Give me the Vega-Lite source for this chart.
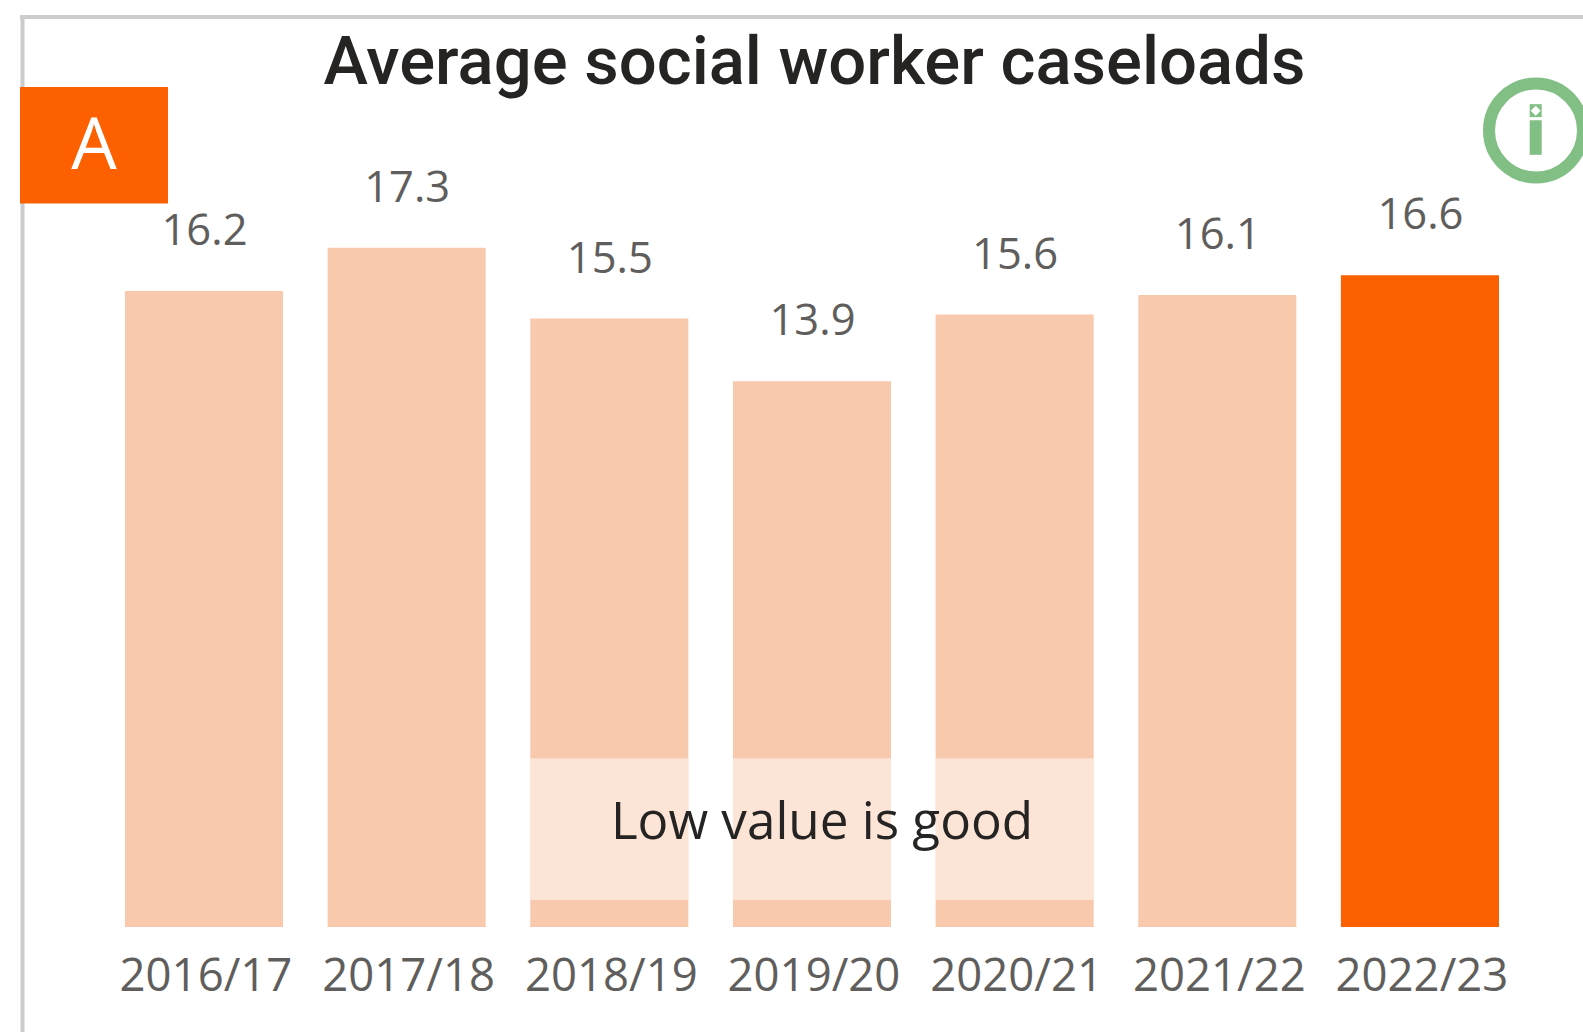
{
"$schema":"https://vega.github.io/schema/vega-lite/v6.json",
"width":1561,"height":1015,
"padding":{"left":22,"top":17,"right":0,"bottom":0},
"autosize":{"type":"none"},
"background":"white",
"config":{"view":{"stroke":null}},
"title":{"text":"Average social worker caseloads","font":"Roboto","fontSize":67,"fontWeight":500,"color":"#252423","anchor":"middle","dx":12,"offset":-136,"baseline":"alphabetic"},
"data":{"values":[
{"year":"2016/17","value":16.2,"period":"past"},
{"year":"2017/18","value":17.3,"period":"past"},
{"year":"2018/19","value":15.5,"period":"past"},
{"year":"2019/20","value":13.9,"period":"past"},
{"year":"2020/21","value":15.6,"period":"past"},
{"year":"2021/22","value":16.1,"period":"past"},
{"year":"2022/23","value":16.6,"period":"current"}
]},
"resolve":{"scale":{"x":"independent"}},
"layer":[
{"encoding":{
  "x":{"field":"year","type":"nominal","sort":null,"scale":{"type":"band","range":[80.65,1499.3],"paddingInner":0.22,"paddingOuter":0.11},
    "axis":{"title":null,"offset":-105,"domain":false,"ticks":false,"grid":false,"labelAngle":0,"labelFont":"Open Sans","labelFontSize":45.5,"labelColor":"#605e5c","labelPadding":63,"labelOffset":2,"labelOverlap":false,"labelFlush":false,"labelBaseline":"alphabetic","labelBound":false}},
  "y":{"field":"value","type":"quantitative","scale":{"domain":[-2.674,23.18],"nice":false,"zero":false},
    "axis":{"title":null,"labels":false,"ticks":false,"grid":false,"domain":true,"domainColor":"#cccccc","domainWidth":4}}
 },
 "layer":[
  {"mark":{"type":"bar"},"encoding":{"color":{"field":"period","type":"nominal","legend":null,"scale":{"domain":["past","current"],"range":["#f9c9ae","#fd6000"]}}}},
  {"transform":[{"filter":"datum.year >= '2018/19' && datum.year <= '2020/21'"}],"mark":{"type":"bar","fill":"white","opacity":0.5},
   "encoding":{"y":{"datum":4.3},"y2":{"datum":0.69}}},
  {"mark":{"type":"text","font":"Open Sans","fontSize":43.5,"color":"#605e5c","baseline":"alphabetic","dy":-46,"dx":0.5},"encoding":{"text":{"field":"value","type":"quantitative","format":".1f"}}}
 ]},
{"data":{"values":[{"note":"Low value is good"}]},
 "mark":{"type":"text","font":"Open Sans","fontSize":51.2,"color":"#252423","baseline":"alphabetic","dx":10},
 "encoding":{"x":{"datum":"2019/20","scale":{"type":"band","domain":["2016/17","2017/18","2018/19","2019/20","2020/21","2021/22","2022/23"],"range":[80.65,1499.3],"paddingInner":0.22,"paddingOuter":0.11},"axis":null},
   "y":{"datum":2.24},"text":{"field":"note"}}},
{"data":{"values":[{"frame":"top","badge":"A"}]},
 "encoding":{"x":{"datum":0,"type":"quantitative","scale":{"domain":[0,1561],"nice":false,"zero":false},"axis":null}},
 "layer":[
  {"mark":{"type":"rule","color":"#cccccc","strokeWidth":4},"encoding":{"x":{"datum":-2,"type":"quantitative"},"x2":{"datum":1561},"y":{"datum":23.18}}},
  {"mark":{"type":"rect","color":"#fd6000"},"encoding":{"x":{"datum":-2,"type":"quantitative"},"x2":{"datum":146},"y":{"datum":21.4},"y2":{"datum":18.43}}},
  {"mark":{"type":"text","font":"Open Sans","fontSize":72,"color":"white","baseline":"alphabetic"},"encoding":{"x":{"datum":72,"type":"quantitative"},"y":{"datum":19.31},"text":{"field":"badge"}}},
  {"mark":{"type":"point","shape":"circle","filled":false,"size":8836,"stroke":"#82bf85","strokeWidth":12,"opacity":1},"encoding":{"x":{"datum":1514,"type":"quantitative"},"y":{"datum":20.29}}},
  {"mark":{"type":"rect","color":"#82bf85"},"encoding":{"x":{"datum":1507.7,"type":"quantitative"},"x2":{"datum":1519.7},"y":{"datum":20.55},"y2":{"datum":19.67}}},
  {"mark":{"type":"rect","color":"#82bf85"},"encoding":{"x":{"datum":1507.7,"type":"quantitative"},"x2":{"datum":1519.7},"y":{"datum":20.96},"y2":{"datum":20.63}}},
  {"mark":{"type":"point","shape":"diamond","filled":true,"size":100,"color":"white","opacity":1},"encoding":{"x":{"datum":1513.7,"type":"quantitative"},"y":{"datum":20.795}}}
 ]}
]
}
